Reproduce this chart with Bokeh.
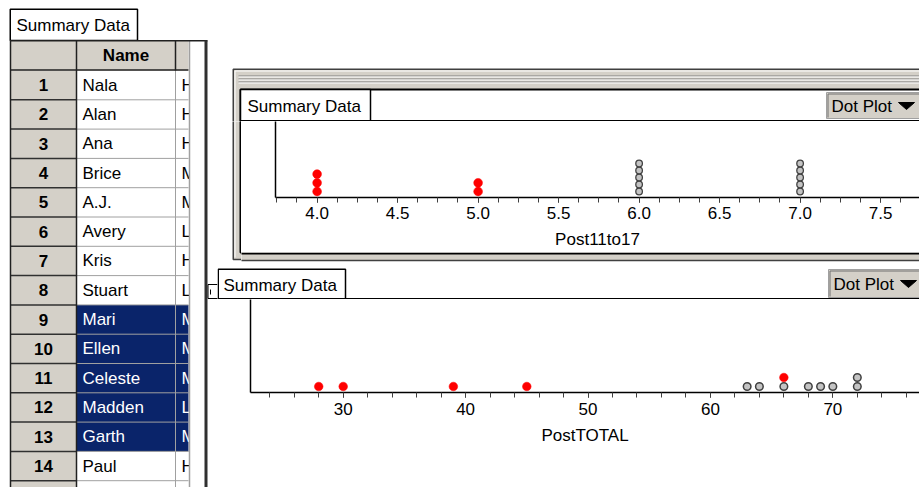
from bokeh.plotting import figure
from bokeh.models import Range1d, SingleIntervalTicker, FixedTicker, NumeralTickFormatter
from bokeh.layouts import row, column
from bokeh.embed import file_html
from bokeh.resources import INLINE
from bokeh.core.properties import value

FONT = "Liberation Sans"
FS = "17px"
UI_GRAY = "#d4d0c8"
NAVY = "#0a246a"

# ---------------- data ----------------
row_numbers = [1, 2, 3, 4, 5, 6, 7, 8, 9, 10, 11, 12, 13, 14]
names = ["Nala", "Alan", "Ana", "Brice", "A.J.", "Avery", "Kris", "Stuart",
         "Mari", "Ellen", "Celeste", "Madden", "Garth", "Paul"]
third_col = ["H", "H", "H", "M", "M", "L", "H", "L", "M", "M", "M", "L", "M", "H"]
selected_rows = [9, 10, 11, 12, 13]

post11to17_selected = [4.0, 4.0, 4.0, 5.0, 5.0]
post11to17_other = [6.0, 6.0, 6.0, 6.0, 6.0, 7.0, 7.0, 7.0, 7.0, 7.0]
posttotal_selected = [28, 30, 39, 45, 66]
posttotal_other = [63, 64, 66, 68, 69, 70, 72, 72]


def stack_levels(values, counts=None):
    counts = {} if counts is None else counts
    levels = []
    for v in values:
        counts[v] = counts.get(v, 0) + 1
        levels.append(counts[v])
    return levels, counts


# ---------------- chrome helpers (pixel coordinate figures) ----------------
def box(p, l, r, t, b, fill=None, line=None, lw=1.0):
    p.quad(left=[l], right=[r], top=[t], bottom=[b], fill_color=fill,
           line_color=line, line_width=lw)


def seg(p, x0, y0, x1, y1, color, lw=1.0):
    p.segment(x0=[x0], y0=[y0], x1=[x1], y1=[y1], line_color=color, line_width=lw)


def txt(p, x, y, s, color="black", bold=False, align="left", size=FS):
    # only place a text in the figure whose area holds its anchor
    bx0, bx1, by0, by1 = p.tags[0]
    if not (bx0 <= x < bx1 and by0 <= y < by1):
        return
    p.text(x=[x], y=[y], text=[s], text_font=value(FONT), text_font_size=value(size),
           text_font_style="bold" if bold else "normal", text_color=color,
           text_align=align, text_baseline="middle")


def button(p, x0, y0, y1):
    box(p, x0, 960, y0, y1, fill=UI_GRAY, line="#a0a0a0", lw=1)
    seg(p, x0 + 1.5, y0 + 1.5, x0 + 1.5, y1 - 1, "#707070", 1)
    seg(p, x0 + 1.5, y0 + 1.5, 960, y0 + 1.5, "#707070", 1)
    ym = (y0 + y1) / 2
    txt(p, x0 + 5, ym + 0.5, "Dot Plot")
    p.patch(x=[x0 + 72, x0 + 88, x0 + 80], y=[ym - 3, ym - 3, ym + 4],
            fill_color="black", line_color="black")


def draw_chrome(p):
    # ---- case table ----
    box(p, 9.75, 137, 8.75, 40, fill="white", line="black", lw=1.5)
    txt(p, 16, 25, "Summary Data")
    top, h, n = 70.0, 29.3, len(names)
    bottom = top + n * h
    box(p, 10, 188, 40, 70, fill=UI_GRAY)
    box(p, 10, 76, 70, bottom + 20, fill=UI_GRAY)
    s0 = top + (min(selected_rows) - 1) * h
    s1 = top + max(selected_rows) * h
    box(p, 76, 188, s0, s1, fill=NAVY)
    ys = [top + k * h for k in range(1, n + 1)]
    p.segment(x0=[76] * n, y0=ys, x1=[188] * n, y1=ys, line_color="#a0a0a0", line_width=1)
    p.segment(x0=[10] * n, y0=ys, x1=[76] * n, y1=ys, line_color="#303030", line_width=1.5)
    seg(p, 175, 70, 175, bottom + 20, "#a0a0a0", 1)
    seg(p, 175, 40, 175, 70, "#202020", 1.5)
    seg(p, 10, 40, 10, bottom + 20, "#202020", 1.5)
    seg(p, 76, 40, 76, bottom + 20, "#202020", 1.5)
    seg(p, 10, 69.5, 188, 69.5, "#202020", 1.5)
    txt(p, 125.5, 55, "Name", bold=True, align="center")
    for i, (num, nm, tc) in enumerate(zip(row_numbers, names, third_col)):
        yc = top + (i + 0.5) * h
        col = "white" if num in selected_rows else "black"
        txt(p, 43, yc, str(num), bold=True, align="center")
        txt(p, 82, yc, nm, color=col)
        txt(p, 181, yc, tc, color=col)
    box(p, 188.5, 204, 41, bottom + 20, fill="white")
    seg(p, 189, 40, 189, bottom + 20, "#a0a0a0", 1.5)
    seg(p, 10, 40.25, 207, 40.25, "#202020", 1.5)
    seg(p, 205.5, 40, 205.5, bottom + 20, "#303030", 3)

    # ---- panel 1 frame ----
    box(p, 232.75, 960, 68.75, 259, fill=UI_GRAY, line="#404040", lw=1.5)
    seg(p, 234.5, 70.5, 234.5, 257, "white", 1)
    seg(p, 234.5, 70.5, 960, 70.5, "white", 1)
    for yy in (75.5, 78.5, 81.5):
        seg(p, 238, yy, 960, yy, "#808080", 1)
        seg(p, 238, yy + 1, 960, yy + 1, "white", 1)
    box(p, 240, 960, 89, 252, fill="white", line="black", lw=2)
    box(p, 240, 370, 89, 120.5, fill="white", line="black", lw=1.5)
    seg(p, 240, 120.5, 960, 120.5, "black", 2)
    txt(p, 247, 106, "Summary Data")
    button(p, 826, 92, 118)

    # ---- panel 2 header ----
    seg(p, 207.5, 284, 207.5, 298, "black", 1)
    seg(p, 207.5, 284, 217, 284, "black", 1)
    seg(p, 207.5, 298, 217, 298, "black", 1)
    seg(p, 210, 289, 210, 294, "black", 1)
    box(p, 217.75, 345, 268.75, 298.5, fill="white", line="black", lw=1.5)
    seg(p, 217, 298.5, 960, 298.5, "black", 2)
    txt(p, 223, 284.5, "Summary Data")
    button(p, 828, 269, 297)


def px_fig(x0, x1, y0, y1):
    p = figure(width=x1 - x0, height=y1 - y0, x_range=Range1d(x0, x1),
               y_range=Range1d(y1, y0), min_border=0, toolbar_location=None,
               output_backend="svg", x_axis_location=None, y_axis_location=None,
               background_fill_color="white", border_fill_color="white",
               outline_line_color=None, tags=[[x0, x1, y0, y1]])
    p.grid.visible = False
    draw_chrome(p)
    return p


def style_plot(p, ticker, fmt, tick_standoff, label_standoff):
    p.grid.visible = False
    ax = p.xaxis[0]
    ax.ticker = ticker
    if fmt is not None:
        ax.formatter = fmt
    ax.axis_line_color = "black"
    ax.axis_line_width = 1.5
    ax.major_tick_line_color = "black"
    ax.minor_tick_line_color = "#404040"
    ax.major_tick_out = 5
    ax.major_tick_in = 0
    ax.minor_tick_out = 5
    ax.minor_tick_in = 0
    ax.major_label_text_font = FONT
    ax.major_label_text_font_size = FS
    ax.major_label_text_color = "black"
    ax.major_label_standoff = tick_standoff
    ax.axis_label_text_font = FONT
    ax.axis_label_text_font_size = FS
    ax.axis_label_text_font_style = "normal"
    ax.axis_label_text_color = "black"
    ax.axis_label_standoff = label_standoff
    ay = p.yaxis[0]
    ay.ticker = FixedTicker(ticks=[])
    ay.major_label_text_font_size = "0px"
    ay.major_tick_line_color = None
    ay.minor_tick_line_color = None
    ay.major_tick_out = 0
    ay.major_label_standoff = 0
    ay.axis_line_color = "black"
    ay.axis_line_width = 1.5


# ---------------- figures ----------------
A = px_fig(0, 217, 0, 487)
B1 = px_fig(217, 919, 0, 121)
B2L = px_fig(217, 241, 121, 262)
STRIP = px_fig(241, 919, 251, 262)
B4 = px_fig(217, 919, 262, 299)

# dot plot 1 : Post11to17
P1 = figure(width=678, height=130, x_range=Range1d(3.7416, 7.7416),
            y_range=Range1d(0.143, 11.0), extra_y_ranges={"sel": Range1d(0.310, 9.046)},
            min_border_left=34, min_border_right=0, min_border_top=0, min_border_bottom=54,
            toolbar_location=None, output_backend="svg", background_fill_color="white",
            border_fill_color="white", outline_line_color=None, x_axis_label="Post11to17")
style_plot(P1, SingleIntervalTicker(interval=0.5, num_minor_ticks=4),
           NumeralTickFormatter(format="0.0"), 4, 8)
lv_o, _ = stack_levels(post11to17_other)
lv_s, _ = stack_levels(post11to17_selected)
P1.scatter(x=post11to17_other, y=lv_o, size=6.6, fill_color="#c4c4c4",
           line_color="#404040", line_width=1.3)
P1.scatter(x=post11to17_selected, y=lv_s, y_range_name="sel", size=8.8,
           fill_color="#ff0000", line_color="#ff0000", line_width=0.5)

# dot plot 2 : PostTOTAL
P2 = figure(width=702, height=188, x_range=Range1d(22.427, 77.08),
            y_range=Range1d(0.333, 10.667),
            min_border_left=33, min_border_right=0, min_border_top=0, min_border_bottom=95,
            toolbar_location=None, output_backend="svg", background_fill_color="white",
            border_fill_color="white", outline_line_color=None, x_axis_label="PostTOTAL")
style_plot(P2, SingleIntervalTicker(interval=10, num_minor_ticks=5), None, 5, 8)
lv2_o, cnt = stack_levels(posttotal_other)
lv2_s, _ = stack_levels(posttotal_selected, dict(cnt))
P2.scatter(x=posttotal_other, y=lv2_o, size=7.6, fill_color="#c4c4c4",
           line_color="#404040", line_width=1.5)
P2.scatter(x=posttotal_selected, y=lv2_s, size=8.6,
           fill_color="#ff0000", line_color="#ff0000", line_width=0.5)

# each chrome figure sits in its own row so that the layout does not align
# its (empty) borders with the dot plots' axis borders
right = column(row(B1), row(B2L, column(P1, row(STRIP))), row(B4), P2)
layout = row(A, right)

open("out.html", "w").write(file_html(layout, INLINE))
